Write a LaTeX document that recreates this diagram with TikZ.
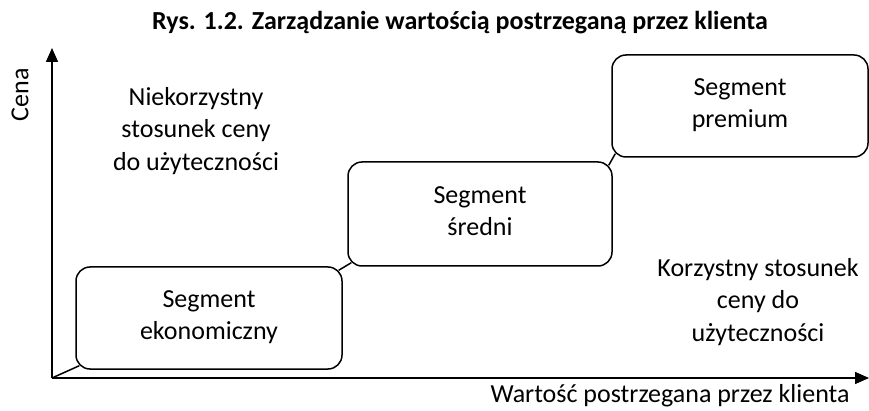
\documentclass[tikz,border=0pt]{standalone}
\usepackage{fontspec}
\setmainfont{Carlito}
\usetikzlibrary{calc,arrows.meta}

\begin{document}
\begin{tikzpicture}[x=1pt,y=-1pt,
	segment/.style={draw, line width=1.5pt, rounded corners=14pt, align=center, inner sep=0pt, text depth=6pt, font=\fontsize{26}{32.5}\selectfont},
	opis/.style={align=center, inner sep=0pt, font=\fontsize{26}{32.5}\selectfont},
	os/.style={line width=1.5pt, -{Triangle[width=12pt,length=14pt]}},
	linia/.style={line width=1.5pt}]
	\useasboundingbox (0,0) rectangle (869,411);
	\coordinate (O) at (52,378);
	\coordinate (Y) at (52,48);
	\coordinate (X) at (869,378);
	\node[anchor=base, font=\fontsize{26}{32.5}\selectfont\bfseries] (tytul) at (460,30) {Rys. 1.2. Zarządzanie wartością postrzeganą przez klienta};
	\draw[os] (O)--(Y);
	\draw[os] (O)--(X);
	\node[segment, minimum width=266pt, minimum height=102pt] (ekon) at (209,318) {Segment\\ekonomiczny};
	\node[segment, minimum width=264pt, minimum height=104pt] (sredni) at (480,214) {Segment\\średni};
	\node[segment, minimum width=256pt, minimum height=102pt] (premium) at (740,106) {Segment\\premium};
	\draw[linia] (O)--($(ekon.south west)+(4,-4)$);
	\draw[linia] ($(ekon.north east)+(-4,4)$)--($(sredni.south west)+(4,-4)$);
	\draw[linia] ($(sredni.north east)+(-4,4)$)--($(premium.south west)+(4,-4)$);
	\node[opis] (niekorz) at (196,131) {Niekorzystny\\stosunek ceny\\do użyteczności};
	\node[opis] (korz) at (758,302) {Korzystny stosunek\\ceny do\\użyteczności};
	\node[opis, rotate=90] (cena) at (20,95) {Cena};
	\node[opis] (wartosc) at (670,396) {Wartość postrzegana przez klienta};
\end{tikzpicture}
\end{document}
